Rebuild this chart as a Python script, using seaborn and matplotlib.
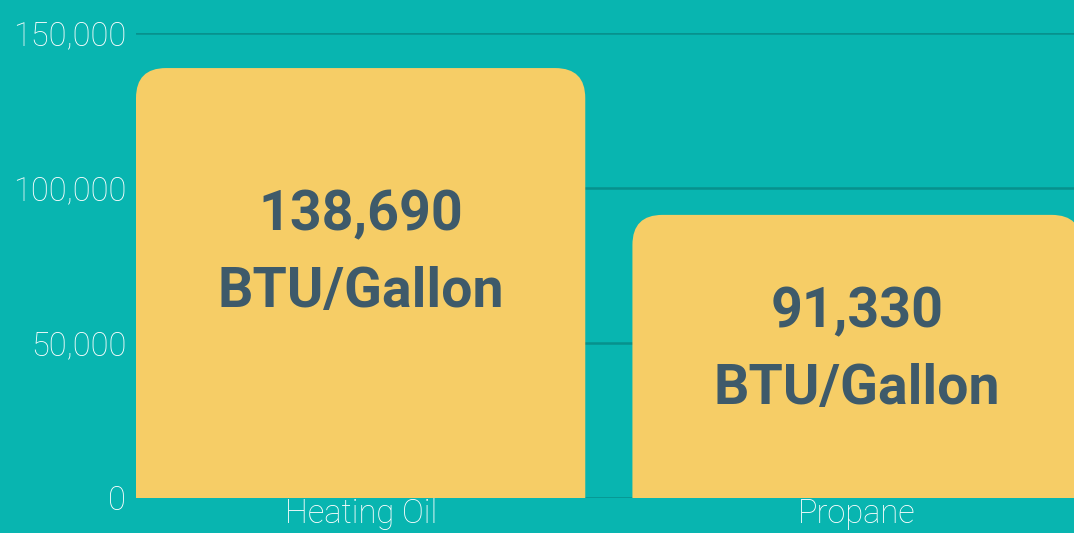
import seaborn as sns
import matplotlib.pyplot as plt
import pandas as pd
from matplotlib.patches import FancyBboxPatch

fuels = ['Heating Oil', 'Propane']
btu = [138690, 91330]
labels = ['138,690\nBTU/Gallon', '91,330\nBTU/Gallon']
yticks = [0, 50000, 100000, 150000]
ytick_labels = ['0', '50,000', '100,000', '150,000']

bg = '#08b5b0'
bar_color = '#f6cd66'
grid_color = '#07918d'
text_color = '#3e5a6a'

df = pd.DataFrame({'fuel': fuels, 'btu': btu})

sns.set_style('white')
plt.rcParams['font.family'] = ['Roboto', 'DejaVu Sans']

fig = plt.figure(figsize=(10.74, 5.33), dpi=100, facecolor=bg)
ax = fig.add_axes([136 / 1074, 35 / 533, 1 - 136 / 1074, (498 - 33) / 533])
ax.set_facecolor(bg)

sns.barplot(data=df, x='fuel', y='btu', color=bar_color, width=0.905,
            saturation=1, ax=ax, zorder=2)

ax.set_xlim(-0.4525, 1.437)
ax.set_ylim(0, 150000)

# swap the plain bars for bars with rounded top corners
# (the box starts below 0 so its lower corners are clipped away)
ax_w = 938
x_per_px = (1.437 + 0.4525) / ax_w
y_per_px = 150000 / 465
r_px = 30
for p in list(ax.patches):
    x0, w, h = p.get_x(), p.get_width(), p.get_height()
    p.set_visible(False)
    below = 20000
    rb = FancyBboxPatch((x0, -below), w, h + below,
                        boxstyle=f'round,pad=0,rounding_size={r_px * x_per_px}',
                        mutation_aspect=y_per_px / x_per_px,
                        facecolor=bar_color, edgecolor='none', linewidth=0,
                        zorder=3)
    ax.add_patch(rb)

label_y = [78800, 47500]
for i, (lab, yy) in enumerate(zip(labels, label_y)):
    ax.text(i, yy, lab, ha='center', va='center', fontsize=40,
            fontweight='bold', color=text_color, linespacing=1.62, zorder=4)

ax.set_yticks(yticks)
ax.set_yticklabels(ytick_labels)
ax.yaxis.grid(True, color=grid_color, linewidth=1.8, zorder=0)
ax.set_axisbelow(True)
ax.tick_params(axis='both', length=0, colors='white', labelsize=23.5)
ax.tick_params(axis='y', pad=7)
ax.tick_params(axis='x', pad=0)
for lbl in ax.get_xticklabels() + ax.get_yticklabels():
    lbl.set_fontweight('light')
ax.set_xlabel('')
ax.set_ylabel('')
for s in ax.spines.values():
    s.set_visible(False)

fig.savefig('out.png', dpi=100, facecolor=bg)
